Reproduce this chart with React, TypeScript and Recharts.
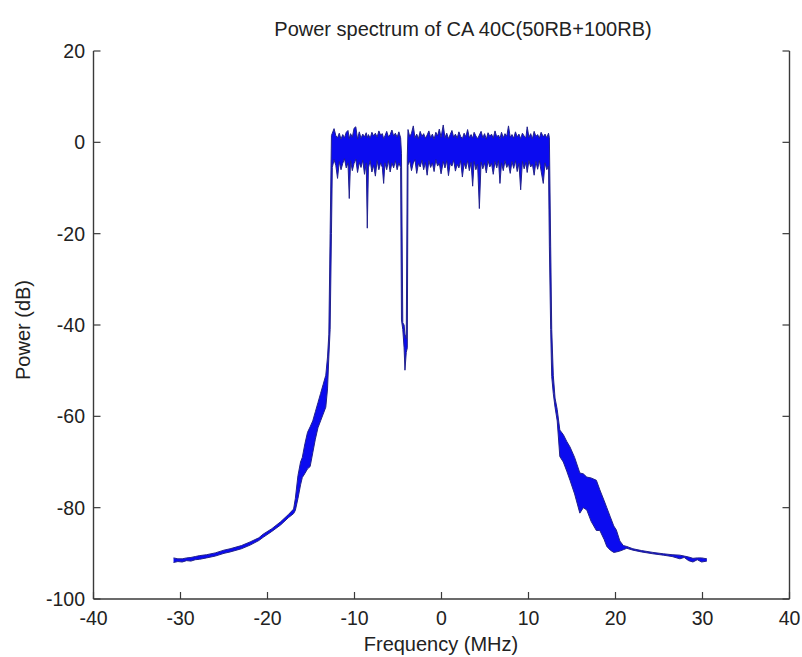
import React from 'react';
import { ComposedChart, Area, XAxis, YAxis, Label } from 'recharts';

// ---- data ----
const leftSkirtFreq = [-30.8, -30.3, -29.8, -29.3, -28.8, -28.3, -27.8, -27.0, -26.0, -25.0, -24.3, -23.0, -22.0, -21.0, -20.5, -19.5, -18.5, -17.6, -17.0, -16.8, -16.5, -16.2, -16.0, -15.7, -15.4, -15.1, -14.8, -14.5, -14.2, -13.9, -13.6, -13.3, -13.1, -12.95, -12.8, -12.65];
const leftSkirtLo = [-92.0, -91.8, -91.9, -91.6, -91.7, -91.4, -91.3, -91.0, -90.6, -90.0, -89.7, -89.0, -88.2, -87.2, -86.5, -85.2, -83.8, -82.2, -81.3, -80.6, -78, -75, -73.4, -72.5, -71.5, -71, -68, -65, -62.5, -61, -59.5, -58, -54, -47, -41, -20];
const leftSkirtHi = [-91.0, -91.2, -91.2, -91.0, -90.9, -90.7, -90.5, -90.3, -89.9, -89.3, -89.0, -88.3, -87.5, -86.6, -85.8, -84.6, -83.1, -81.5, -80.3, -78, -73, -70, -69, -66, -63.5, -62.3, -61, -59, -57, -55, -53, -51, -47, -42, -20, 1.5];

const bandLeftFreq = [-12.55, -12.35, -12.15, -11.95, -11.75, -11.55, -11.35, -11.15, -10.95, -10.75, -10.6, -10.45, -10.25, -10.05, -9.85, -9.65, -9.45, -9.25, -9.05, -8.85, -8.65, -8.53, -8.4, -8.2, -8.0, -7.8, -7.6, -7.4, -7.2, -7.0, -6.8, -6.65, -6.5, -6.3, -6.1, -5.9, -5.7, -5.5, -5.3, -5.1, -4.9, -4.7];
const bandLeftLo = [-5.5, -3.8, -5.0, -7.9, -4.2, -6.0, -4.6, -3.6, -5.6, -4.5, -12.3, -4.0, -6.2, -4.6, -3.7, -6.6, -4.4, -5.5, -3.9, -7.0, -4.5, -18.8, -5.6, -4.0, -6.5, -5.0, -7.4, -4.0, -6.0, -4.5, -5.5, -9.0, -4.5, -6.0, -4.0, -6.5, -4.5, -5.6, -4.0, -6.0, -4.5, -5.5];
const bandLeftHi = [2.0, 3.0, 1.5, 1.0, 2.0, 0.7, 1.7, 1.0, 2.2, 2.6, 0.8, 1.9, 1.1, 3.1, 3.4, 0.7, 2.3, 0.9, 1.8, 1.2, 2.1, 1.0, 1.7, 0.9, 2.2, 1.4, 2.0, 1.1, 2.5, 1.6, 1.9, 0.8, 1.4, 2.4, 1.2, 1.7, 2.7, 1.4, 2.0, 1.1, 2.3, 1.0];

const notchFreq = [-4.6, -4.45, -4.3, -4.2, -4.05, -3.93];
const notchLo = [-38.9, -41, -45, -49.9, -46, -45];
const notchHi = [-2.5, -39.5, -40, -42, -43, -3];

const bandRightFreq = [-3.85, -3.65, -3.45, -3.24, -3.05, -2.85, -2.65, -2.45, -2.25, -2.05, -1.85, -1.65, -1.45, -1.25, -1.05, -0.85, -0.65, -0.45, -0.25, -0.05, 0.2, 0.4, 0.6, 0.8, 1.0, 1.2, 1.4, 1.6, 1.8, 2.0, 2.2, 2.4, 2.6, 2.8, 3.0, 3.2, 3.4, 3.58, 3.75, 3.95, 4.15, 4.35, 4.55, 4.75, 4.95, 5.15, 5.35, 5.55, 5.75, 5.95, 6.15, 6.35, 6.55, 6.72, 6.9, 7.1, 7.3, 7.5, 7.7, 7.9, 8.1, 8.3, 8.5, 8.7, 8.9, 9.1, 9.3, 9.5, 9.7, 9.85, 10.05, 10.25, 10.45, 10.65, 10.85, 11.05, 11.25, 11.45, 11.7, 11.9, 12.1, 12.3];
const bandRightLo = [-5.0, -4.0, -6.2, -4.5, -3.8, -6.8, -4.6, -5.4, -3.9, -6.0, -4.4, -7.2, -4.0, -5.5, -4.5, -6.4, -3.8, -5.2, -4.6, -6.9, -4.2, -5.6, -4.0, -7.3, -4.6, -5.2, -3.9, -6.3, -4.8, -5.6, -4.0, -7.6, -4.5, -5.8, -4.0, -6.2, -4.4, -9.6, -4.2, -6.0, -4.8, -14.5, -4.3, -5.8, -4.5, -6.7, -4.0, -5.4, -4.6, -7.0, -4.2, -5.6, -4.0, -9.0, -4.5, -6.2, -4.0, -5.5, -4.7, -6.8, -4.2, -5.7, -4.0, -6.4, -4.6, -10.4, -4.2, -5.8, -4.4, -6.6, -4.0, -5.4, -4.8, -7.2, -4.2, -5.9, -4.0, -6.3, -9.0, -4.5, -6.0, -5.2];
const bandRightHi = [2.8, 1.2, 2.0, 3.6, 1.0, 1.8, 0.8, 2.4, 1.3, 1.9, 0.9, 1.6, 2.5, 1.0, 1.8, 0.7, 2.2, 1.4, 2.9, 1.1, 3.8, 1.0, 2.0, 0.8, 1.7, 2.6, 1.1, 1.8, 0.9, 2.3, 1.3, 0.8, 2.0, 1.2, 2.8, 1.0, 1.7, 0.9, 2.2, 1.4, 0.8, 1.6, 2.4, 1.0, 1.9, 0.7, 2.1, 1.3, 1.8, 0.9, 2.5, 1.2, 1.6, 0.8, 2.2, 1.0, 1.9, 1.3, 3.6, 1.1, 1.7, 0.9, 2.3, 1.2, 1.8, 0.8, 2.0, 1.4, 1.0, 3.4, 1.1, 1.9, 0.8, 2.4, 1.3, 1.7, 0.9, 2.2, 1.2, 1.8, 1.0, 2.0];

const rightSkirtFreq = [12.4, 12.55, 12.67, 12.85, 13.05, 13.3, 13.6, 14.0, 14.4, 14.77, 15.3, 15.9, 16.3, 16.7, 17.2, 17.8, 18.2, 18.7, 19.0, 19.4, 19.8, 20.1, 20.5, 20.9, 21.3, 22.0, 23.0, 24.3, 25.5, 26.5, 27.4, 27.9, 28.4, 28.9, 29.4, 29.9, 30.5];
const rightSkirtLo = [-22.9, -41, -51.3, -55, -58, -61, -68.8, -70, -72, -74, -77, -81.2, -80, -80.5, -83, -85, -85, -87, -88.5, -89.3, -89.8, -89.7, -89.5, -89.2, -88.9, -89.3, -89.7, -90.1, -90.4, -90.7, -91.2, -90.9, -91.6, -91.9, -91.4, -91.9, -91.7];
const rightSkirtHi = [1.0, -22.9, -41, -51, -56, -58.5, -63, -64, -65.5, -66.7, -69, -72.4, -72.6, -73.3, -73.5, -74, -76.1, -78.5, -80, -82, -84, -84.9, -87.3, -88.3, -88.5, -89.0, -89.4, -89.8, -90.1, -90.3, -90.4, -90.6, -90.8, -91.1, -91.0, -91.0, -91.2];

const xTicks = [-40, -30, -20, -10, 0, 10, 20, 30, 40];
const yTicks = [-100, -80, -60, -40, -20, 0, 20];
const titleText = 'Power spectrum of CA 40C(50RB+100RB)';
const xLabelText = 'Frequency (MHz)';
const yLabelText = 'Power (dB)';

type Pt = { f: number; range: [number, number] };
const build = (f: number[], lo: number[], hi: number[]): Pt[] =>
  f.map((x, i) => ({ f: x, range: [lo[i], hi[i]] as [number, number] }));

const data: Pt[] = [
  ...build(leftSkirtFreq, leftSkirtLo, leftSkirtHi),
  ...build(bandLeftFreq, bandLeftLo, bandLeftHi),
  ...build(notchFreq, notchLo, notchHi),
  ...build(bandRightFreq, bandRightLo, bandRightHi),
  ...build(rightSkirtFreq, rightSkirtLo, rightSkirtHi),
];

// ---- layout / styling ----
const W = 794;
const H = 649;
const LEFT_W = 85.5;
const RIGHT_W = 12.5;
const FONT = '"Liberation Sans", Arial, Helvetica, sans-serif';
const AXIS = '#3a3a3a';
const TEXT = '#222';
const TL = 7;

const BottomTick = (p: any) => (
  <g>
    <line x1={p.x} y1={p.y} x2={p.x} y2={p.y - TL} stroke={AXIS} strokeWidth={1.2} />
    <text x={p.x} y={p.y + 25.5} textAnchor="middle" fontSize={19.5} fontFamily={FONT} fill={TEXT}>
      {p.payload.value}
    </text>
  </g>
);
const TopTick = (p: any) => (
  <line x1={p.x} y1={p.y} x2={p.x} y2={p.y + TL} stroke={AXIS} strokeWidth={1.2} />
);
const LeftTick = (p: any) => (
  <g>
    <line x1={p.x} y1={p.y} x2={p.x + TL} y2={p.y} stroke={AXIS} strokeWidth={1.2} />
    <text x={p.x - 8.5} y={p.y + 7} textAnchor="end" fontSize={19.5} fontFamily={FONT} fill={TEXT}>
      {p.payload.value}
    </text>
  </g>
);
const RightTick = (p: any) => (
  <line x1={p.x} y1={p.y} x2={p.x - TL} y2={p.y} stroke={AXIS} strokeWidth={1.2} />
);

const XLabel = (p: any) => {
  const vb = p.viewBox;
  return (
    <text x={vb.x + vb.width / 2 - 0.5} y={vb.y + 52} textAnchor="middle" fontSize={20} fontFamily={FONT} fill={TEXT}>
      {xLabelText}
    </text>
  );
};
// y-axis label plus the chart title (rendered through the left axis label slot)
const YLabel = (p: any) => {
  const vb = p.viewBox;
  const cx = 22;
  const cy = vb.y + vb.height / 2 + 5;
  const titleX = (LEFT_W + (W - RIGHT_W)) / 2 + 21.5;
  const titleY = vb.y - 15;
  return (
    <g>
      <text x={cx} y={cy} transform={`rotate(-90, ${cx}, ${cy})`} textAnchor="middle" fontSize={20} fontFamily={FONT} fill={TEXT}>
        {yLabelText}
      </text>
      <text x={titleX} y={titleY} textAnchor="middle" fontSize={20} fontFamily={FONT} fill={TEXT}>
        {titleText}
      </text>
    </g>
  );
};

export default function App() {
  return (
    <div style={{ position: 'fixed', left: 8, top: 8, width: W, height: H, background: '#fff', overflow: 'hidden' }}>
      <ComposedChart width={W} height={H} data={data} margin={{ top: 43, right: 0, bottom: 0, left: 0 }}>
        <XAxis
          xAxisId="bottom"
          dataKey="f"
          type="number"
          domain={[-40, 40]}
          ticks={xTicks}
          interval={0}
          allowDataOverflow
          height={58}
          tickSize={0}
          tickMargin={0}
          tickLine={false}
          axisLine={{ stroke: AXIS, strokeWidth: 1.4 }}
          tick={<BottomTick />}
        >
          <Label content={<XLabel />} />
        </XAxis>
        <XAxis
          xAxisId="top"
          orientation="top"
          dataKey="f"
          type="number"
          domain={[-40, 40]}
          ticks={xTicks}
          interval={0}
          allowDataOverflow
          height={0}
          tickSize={0}
          tickMargin={0}
          tickLine={false}
          axisLine={{ stroke: AXIS, strokeWidth: 1.4 }}
          tick={<TopTick />}
        />
        <YAxis
          yAxisId="left"
          type="number"
          domain={[-100, 20]}
          ticks={yTicks}
          interval={0}
          allowDataOverflow
          width={LEFT_W}
          tickSize={0}
          tickMargin={0}
          tickLine={false}
          axisLine={{ stroke: AXIS, strokeWidth: 1.4 }}
          tick={<LeftTick />}
        >
          <Label content={<YLabel />} />
        </YAxis>
        <YAxis
          yAxisId="right"
          orientation="right"
          type="number"
          domain={[-100, 20]}
          ticks={yTicks}
          interval={0}
          allowDataOverflow
          width={RIGHT_W}
          tickSize={0}
          tickMargin={0}
          tickLine={false}
          axisLine={{ stroke: AXIS, strokeWidth: 1.4 }}
          tick={<RightTick />}
        />
        <Area
          xAxisId="bottom"
          yAxisId="left"
          dataKey="range"
          type="linear"
          stroke="#22228c"
          strokeWidth={1}
          fill="#0b0bf0"
          fillOpacity={1}
          dot={false}
          activeDot={false}
          isAnimationActive={false}
        />
      </ComposedChart>
    </div>
  );
}
